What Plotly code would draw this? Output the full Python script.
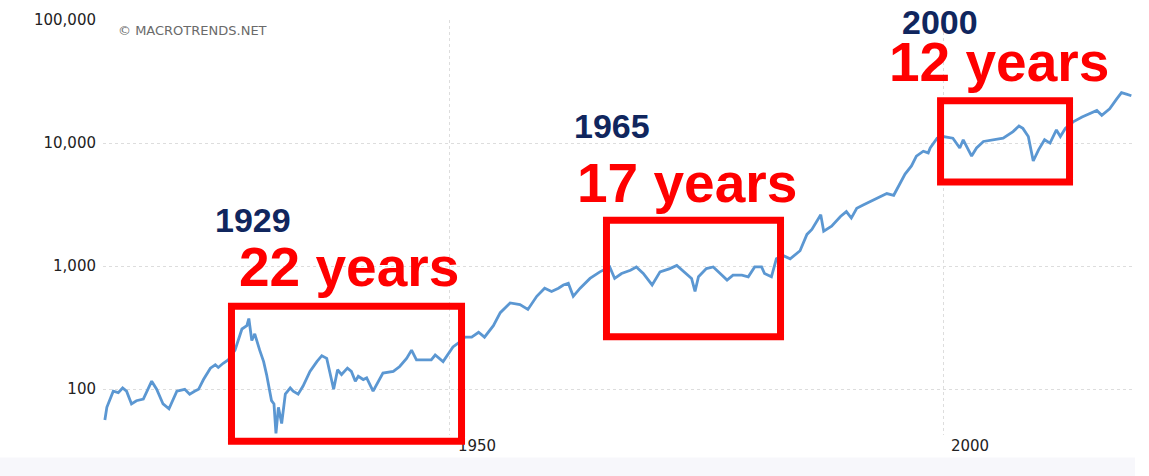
import plotly.graph_objects as go

# ---- data (inflation-adjusted Dow, log scale) ----
years = [
    1915.0, 1915.2, 1915.85, 1916.36, 1916.8, 1917.2, 1917.7, 1918.2, 1918.9, 1919.75,
    1920.25, 1920.9, 1921.5, 1922.3, 1923.1, 1923.6, 1924.1, 1924.5, 1925.0, 1925.7,
    1926.2, 1926.5, 1927.0, 1927.5, 1928.2, 1928.9, 1929.4, 1929.6, 1929.9, 1930.2,
    1930.7, 1931.1, 1931.4, 1931.9, 1932.15, 1932.35, 1932.6, 1932.93, 1933.3, 1933.8,
    1934.1, 1934.6, 1935.1, 1935.8, 1936.5, 1937.0, 1937.5, 1938.0, 1938.2, 1938.6,
    1939.0, 1939.6, 1940.0, 1940.4, 1940.7, 1941.2, 1941.55, 1942.2, 1943.2, 1944.25,
    1944.9, 1945.6, 1946.1, 1946.6, 1947.5, 1948.1, 1948.5, 1949.3, 1950.3, 1951.0,
    1951.5, 1952.2, 1952.9, 1953.5, 1954.4, 1955.1, 1956.1, 1957.1, 1957.9, 1958.8,
    1959.6, 1960.3, 1961.0, 1961.5, 1962.0, 1962.5, 1963.2, 1964.2, 1965.2, 1966.2,
    1966.7, 1967.4, 1968.3, 1968.9, 1969.6, 1970.5, 1971.3, 1972.3, 1973.0, 1973.8,
    1974.5, 1974.85, 1975.2, 1976.0, 1976.7, 1977.4, 1978.1, 1978.7, 1979.6, 1980.25,
    1980.9, 1981.6, 1981.9, 1982.6, 1983.1, 1983.8, 1984.5, 1985.5, 1986.2, 1986.7,
    1987.35, 1987.6, 1987.9, 1988.7, 1989.6, 1990.2, 1990.7, 1991.25, 1991.9, 1992.6,
    1993.6, 1994.3, 1995.0, 1995.5, 1996.15, 1996.8, 1997.3, 1998.0, 1998.5, 1998.7,
    1999.4, 2000.0, 2001.0, 2001.7, 2002.05, 2002.9, 2003.4, 2004.1, 2005.1, 2006.1,
    2007.1, 2007.7, 2008.1, 2008.65, 2009.15, 2009.7, 2010.3, 2010.85, 2011.5, 2011.9,
    2012.4, 2013.2, 2014.1, 2014.9, 2015.6, 2016.1, 2016.9, 2017.6, 2018.1, 2018.6,
    2019.1,
]
values = [
    56, 71, 96, 93.5, 102, 96, 75.6, 80.3, 82.8, 115.8,
    99.5, 75.6, 69, 96, 99.5, 90.8, 96, 99.5, 119.4, 147.7,
    157.2, 149.6, 161.9, 172.3, 207, 307.5, 327, 374, 248, 280.5,
    207, 167, 131, 80.3, 75.6, 43.6, 71, 52.4, 90.8, 102,
    96, 90.8, 105.7, 139, 167, 186.5, 177.4, 115.8, 99.5, 143.4,
    131, 147.7, 139, 115.8, 126.9, 119.4, 123, 96, 134.8, 139,
    152.4, 177.4, 207, 172.3, 172.3, 172.3, 188.9, 167, 219.8, 241,
    264, 264, 289.3, 264, 327, 417.5, 501, 486, 443.6, 567,
    660, 621, 660, 701, 723, 567, 660, 792, 896, 982,
    792, 869, 923, 982, 869, 701, 896, 952, 1011, 896,
    792, 621, 817, 952, 982, 869, 768, 842, 842, 817,
    982, 982, 869, 817, 1143, 1214, 1143, 1331, 1807, 1981,
    2455, 2606, 1919, 2104, 2526, 2768, 2453, 2946, 3130, 3326,
    3645, 3879, 3759, 4515, 5595, 6516, 7825, 8577, 8311, 9108,
    10940, 11285, 10940, 9108, 10620, 7825, 9108, 10297, 10620, 10940,
    12370, 13730, 13140, 11285, 7139, 8845, 10620, 9980, 12760, 11285,
    13140, 14850, 16280, 17300, 18400, 16790, 18960, 22750, 25700, 24950,
    24220,
]

y_tickvals = [100, 1000, 10000, 100000]
y_ticktext = ["100", "1,000", "10,000", "100,000"]
x_tickvals = [1950, 2000]
x_ticktext = ["1950", "2000"]

# flat-market periods (boxes) and their labels
period_starts = [1927.84, 1965.87, 1999.75]
period_ends = [1951.17, 1983.52, 2012.83]
period_labels = ["22 years", "17 years", "12 years"]
peak_labels = ["1929", "1965", "2000"]

fig = go.Figure()
fig.add_trace(go.Scatter(
    x=years, y=values, mode="lines",
    line=dict(color="#5b97d2", width=2.8),
    hoverinfo="skip", showlegend=False,
))

# box vertical placement (paper fractions) and label placement
box_tops = [0.310, 0.5177, 0.8054]
box_bottoms = [-0.0153, 0.237, 0.6097]
peak_label_x = [1925.96, 1962.37, 1995.64]
peak_label_y = [0.5177, 0.744, 0.995]
period_label_x = [1928.40, 1962.68, 1994.32]
period_label_y = [0.4045, 0.607, 0.8986]

for i in range(3):
    fig.add_shape(type="rect", xref="x", yref="paper",
                  x0=period_starts[i], x1=period_ends[i],
                  y0=box_bottoms[i], y1=box_tops[i],
                  line=dict(color="#ff0000", width=7), fillcolor="rgba(0,0,0,0)",
                  layer="above")
    fig.add_annotation(x=peak_label_x[i], y=peak_label_y[i], xref="x", yref="paper",
                       text=peak_labels[i], showarrow=False, xanchor="left", yanchor="middle",
                       font=dict(family="Liberation Sans, Arial", size=34, color="#10265e",
                                 weight="bold"))
    fig.add_annotation(x=period_label_x[i], y=period_label_y[i], xref="x", yref="paper",
                       text=period_labels[i], showarrow=False, xanchor="left", yanchor="middle",
                       font=dict(family="Liberation Sans, Arial", size=55, color="#ff0000",
                                 weight="bold"))

# watermark
fig.add_annotation(x=0.013, y=0.974, xref="paper", yref="paper",
                   text="© MACROTRENDS.NET", showarrow=False, xanchor="left", yanchor="middle",
                   font=dict(family="DejaVu Sans", size=13, color="#6a6a6a"))

# faint bottom band (navigator remnant)
fig.add_shape(type="rect", xref="paper", yref="paper", x0=-0.1, x1=1.0,
              y0=-0.054, y1=-0.1, line=dict(width=0), fillcolor="#f7f7fb", layer="below")

fig.update_layout(
    width=1149, height=476,
    margin=dict(l=103, r=14, t=11, b=41),
    paper_bgcolor="white", plot_bgcolor="white",
    font=dict(family="DejaVu Sans", color="#333333"),
    xaxis=dict(
        range=[1914.81, 2019.47], tickvals=x_tickvals, ticktext=x_ticktext,
        showgrid=True, gridcolor="#dddddd", griddash="dot", gridwidth=1,
        showline=False, zeroline=False, ticks="",
        tickfont=dict(size=15, color="#222222"), ticklabelshift=27,
    ),
    yaxis=dict(
        type="log", range=[1.626, 5.0], tickvals=y_tickvals, ticktext=y_ticktext,
        showgrid=True, gridcolor="#dddddd", griddash="dot", gridwidth=1,
        showline=False, zeroline=False, ticks="",
        tickfont=dict(size=15, color="#222222"), ticklabelstandoff=6,
    ),
)

fig.write_html("out.html", config={"displayModeBar": False},
               post_script="document.body.style.margin='0';")
